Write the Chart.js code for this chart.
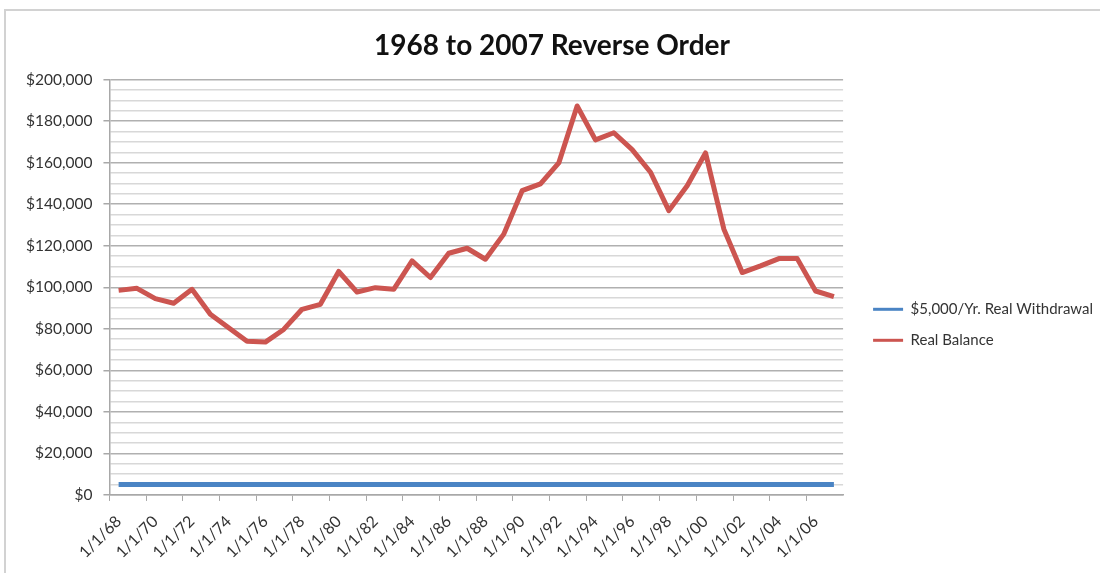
<!DOCTYPE html>
<html>
<head>
<meta charset="utf-8">
<script src="https://cdn.jsdelivr.net/npm/chart.js@4.4.1/dist/chart.umd.min.js"></script>
<style>
  html, body { margin: 0; padding: 0; background: #fff; }
  #wrap { position: absolute; left: 0; top: 0; width: 1100px; height: 573px; }
  #frame { position: absolute; left: 4px; top: 9px; width: 1200px; height: 700px;
           border: 2px solid #d2d2d2; box-sizing: border-box; }
</style>
</head>
<body>
<div id="wrap">
  <div id="frame"></div>
  <canvas id="chart0" width="1100" height="573"></canvas>
</div>
<script>
// years 1968 .. 2007
const years = [1968,1969,1970,1971,1972,1973,1974,1975,1976,1977,
               1978,1979,1980,1981,1982,1983,1984,1985,1986,1987,
               1988,1989,1990,1991,1992,1993,1994,1995,1996,1997,
               1998,1999,2000,2001,2002,2003,2004,2005,2006,2007];

const realWithdrawal = [5000,5000,5000,5000,5000,5000,5000,5000,5000,5000,
                        5000,5000,5000,5000,5000,5000,5000,5000,5000,5000,
                        5000,5000,5000,5000,5000,5000,5000,5000,5000,5000,
                        5000,5000,5000,5000,5000,5000,5000,5000,5000,5000];

const realBalance = [98500,99500,94500,92300,99000,87000,80500,74000,73600,79700,
                     89400,91800,107600,97700,99800,99000,112700,104700,116400,118800,
                     113500,125600,146500,149800,159900,187300,171000,174400,166300,155400,
                     136900,148900,164700,128000,107100,110300,113800,113800,98200,95500];

const dateLabels = years.map(y => '1/1/' + String(y).slice(2));

const fontFamily = 'Lato, "Open Sans", sans-serif';

// nudge the legend a bit away from the plot (Excel leaves a wider gap)
const legendShift = {
  id: 'legendShift',
  afterLayout(chart) {
    if (chart.legend) {
      chart.legend.left += 14;
      chart.legend.right += 14;
    }
  }
};

let myChart = makeChart('chart0', '1968 to 2007 Reverse Order');

function makeChart(container, chart_title) {
  let ctx = document.getElementById(container).getContext('2d');
  return new Chart(ctx, {
    type: 'line',
    data: {
      labels: dateLabels,
      datasets: [
        {
          label: '$5,000/Yr. Real Withdrawal',
          data: realWithdrawal,
          borderColor: '#4a84c4',
          backgroundColor: '#4a84c4',
          borderWidth: 5,
          pointRadius: 0,
          tension: 0,
          fill: false
        },
        {
          label: 'Real Balance',
          data: realBalance,
          borderColor: '#cc5550',
          backgroundColor: '#cc5550',
          borderWidth: 5,
          pointRadius: 0,
          tension: 0,
          borderJoinStyle: 'round',
          fill: false
        }
      ]
    },
    plugins: [legendShift],
    options: {
      responsive: false,
      animation: false,
      layout: { padding: { left: 15, right: 11, top: 29, bottom: 0 } },
      plugins: {
        title: {
          display: true,
          text: chart_title,
          color: '#111',
          font: { family: fontFamily, size: 28, weight: 'bold' },
          padding: { top: 0, bottom: 17 }
        },
        legend: {
          position: 'right',
          title: {
            display: true,
            text: ' ',
            font: { family: fontFamily, size: 13 },
            padding: { top: 0, bottom: 32 }
          },
          labels: {
            color: '#333',
            font: { family: fontFamily, size: 15 },
            usePointStyle: true,
            pointStyle: 'line',
            pointStyleWidth: 30,
            padding: 16,
            generateLabels: function(chart) {
              const items = Chart.defaults.plugins.legend.labels.generateLabels(chart);
              items.forEach(it => { it.lineWidth = 3; });
              return items;
            }
          }
        },
        tooltip: { enabled: false }
      },
      scales: {
        //x axis detail
        x: {
          offset: true,
          grid: {
            offset: true,
            drawOnChartArea: false,
            drawTicks: true,
            tickLength: 6,
            color: function(c) { return c.index % 2 === 0 ? '#a8a8a8' : 'rgba(0,0,0,0)'; }
          },
          border: { color: '#a8a8a8', width: 1.5 },
          ticks: {
            autoSkip: false,
            maxRotation: 45,
            minRotation: 45,
            padding: 11,
            color: '#333',
            font: { family: fontFamily, size: 16 },
            callback: function(value, index) {
              return index % 2 === 0 ? dateLabels[index] : '';
            }
          }
        },
        //y axis detail
        y: {
          min: 0,
          max: 200000,
          ticks: {
            stepSize: 5000,
            autoSkip: false,
            color: '#333',
            font: { family: fontFamily, size: 15.5 },
            padding: 11,
            callback: function(value) {
              return value % 20000 === 0 ? '$' + value.toLocaleString('en-US') : '';
            }
          },
          border: { color: '#a8a8a8', width: 1.5 },
          grid: {
            tickLength: 6,
            lineWidth: 1.5,
            color: function(c) { return c.tick && c.tick.value % 20000 === 0 ? '#b0b0b0' : '#d8d8d8'; },
            tickColor: function(c) { return c.tick && c.tick.value % 20000 === 0 ? '#a8a8a8' : 'rgba(0,0,0,0)'; }
          }
        }
      }
    }
  });
}
</script>
</body>
</html>
